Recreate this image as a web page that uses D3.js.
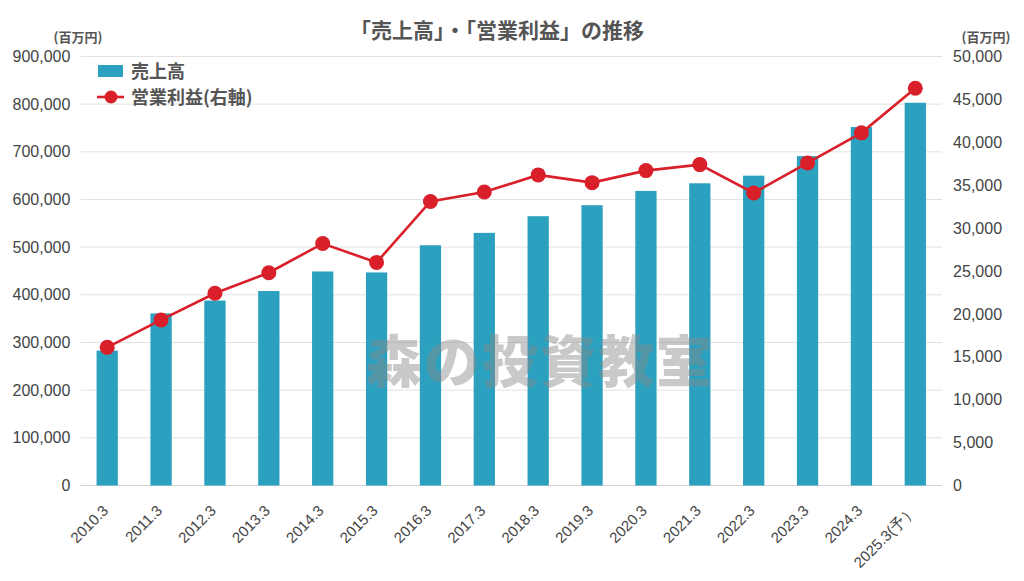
<!DOCTYPE html>
<html><head><meta charset="utf-8">
<script src="https://cdn.jsdelivr.net/npm/d3@7/dist/d3.min.js"></script>
<style>
body{margin:0;background:#fff;}
svg{display:block;font-family:"Noto Sans CJK JP","Noto Sans",sans-serif;}
</style></head>
<body><svg id="c" width="1024" height="581"></svg>
<script>
const categories = ["2010.3","2011.3","2012.3","2013.3","2014.3","2015.3","2016.3","2017.3","2018.3","2019.3","2020.3","2021.3","2022.3","2023.3","2024.3","2025.3(予）"];
const sales = [283000,361000,388000,408000,449000,447000,504000,530000,565000,588000,618000,634000,650000,691000,752000,803000];
const operatingProfit = [16100,19300,22400,24800,28200,26000,33100,34200,36200,35300,36700,37400,34100,37600,41100,46300];
const leftTicks = [0,100000,200000,300000,400000,500000,600000,700000,800000,900000];
const rightTicks = [0,5000,10000,15000,20000,25000,30000,35000,40000,45000,50000];

const svg = d3.select("#c");
const L = 80.4, R = 942.1, T = 56.5, B = 485.5;
const x = d3.scaleBand().domain(categories).range([L,R]).paddingInner(0.605).paddingOuter(0.3);
const yL = d3.scaleLinear().domain([0,900000]).range([B,T]);
const yR = d3.scaleLinear().domain([0,50000]).range([B,T]);
const fmt = d3.format(",");
const numFont = "'Liberation Sans', Arial, sans-serif";

// grid
svg.append("g").selectAll("line").data(leftTicks).join("line")
  .attr("x1",L).attr("x2",R).attr("y1",d=>yL(d)).attr("y2",d=>yL(d))
  .attr("stroke",d=>d===0?"#d0d0d0":"#e2e2e2").attr("stroke-width",1);

// left axis
const ax = d3.axisLeft(yL).tickValues(leftTicks).tickFormat(fmt).tickSize(0).tickPadding(10);
const gL = svg.append("g").attr("transform",`translate(${L},0)`).call(ax);
gL.select(".domain").remove();
gL.selectAll("text").attr("font-size",16).attr("fill","#444").attr("font-family",numFont);

const axR = d3.axisRight(yR).tickValues(rightTicks).tickFormat(fmt).tickSize(0).tickPadding(11);
const gR = svg.append("g").attr("transform",`translate(${R},0)`).call(axR);
gR.select(".domain").remove();
gR.selectAll("text").attr("font-size",16).attr("fill","#444").attr("font-family",numFont);

// bottom axis
const axB = d3.axisBottom(x).tickSize(0).tickPadding(0);
const gB = svg.append("g").attr("transform",`translate(0,${B})`).call(axB);
gB.select(".domain").remove();
gB.selectAll("text").attr("font-size",15).attr("fill","#444").attr("font-family",numFont)
  .attr("text-anchor","end").attr("dy",null).attr("y",0)
  .attr("transform","translate(2,26) rotate(-45)");

// unit labels
svg.append("text").attr("x",78).attr("y",42).attr("text-anchor","middle").attr("font-size",13).attr("font-weight","bold").attr("fill","#555").text("(百万円)");
svg.append("text").attr("x",986).attr("y",42).attr("text-anchor","middle").attr("font-size",13).attr("font-weight","bold").attr("fill","#555").text("(百万円)");

// bars
svg.append("g").selectAll("rect").data(sales).join("rect")
  .attr("x",(d,i)=>x(categories[i])).attr("width",x.bandwidth())
  .attr("y",d=>yL(d)).attr("height",d=>B-yL(d))
  .attr("fill","#2ba1bf");

// line
const cx = (d,i)=>x(categories[i])+x.bandwidth()/2;
svg.append("path").datum(operatingProfit)
  .attr("d",d3.line().x(cx).y(d=>yR(d)))
  .attr("fill","none").attr("stroke","#d9202a").attr("stroke-width",2.6);
svg.append("g").selectAll("circle").data(operatingProfit).join("circle")
  .attr("cx",cx).attr("cy",d=>yR(d)).attr("r",7.5).attr("fill","#d9202a");

// watermark
svg.append("text").attr("x",540).attr("y",382).attr("text-anchor","middle")
  .attr("font-size",56).attr("font-weight","900").attr("fill","#888").attr("fill-opacity",0.45)
  .attr("letter-spacing",2).text("森の投資教室");

// title
svg.append("text").attr("x",497).attr("y",38).attr("text-anchor","middle")
  .attr("font-size",21).attr("font-weight","bold").attr("fill","#555").text("「売上高」・「営業利益」の推移");

// legend
const lg = svg.append("g");
lg.append("rect").attr("x",98).attr("y",65).attr("width",25).attr("height",12).attr("fill","#2ba1bf");
lg.append("text").attr("x",131).attr("y",78).attr("font-size",18).attr("font-weight","bold").attr("fill","#555").text("売上高");
lg.append("line").attr("x1",97).attr("x2",124).attr("y1",97).attr("y2",97).attr("stroke","#d9202a").attr("stroke-width",2.6);
lg.append("circle").attr("cx",111).attr("cy",97).attr("r",6.5).attr("fill","#d9202a");
lg.append("text").attr("x",131).attr("y",104).attr("font-size",18).attr("font-weight","bold").attr("fill","#555").text("営業利益(右軸)");
</script></body></html>
